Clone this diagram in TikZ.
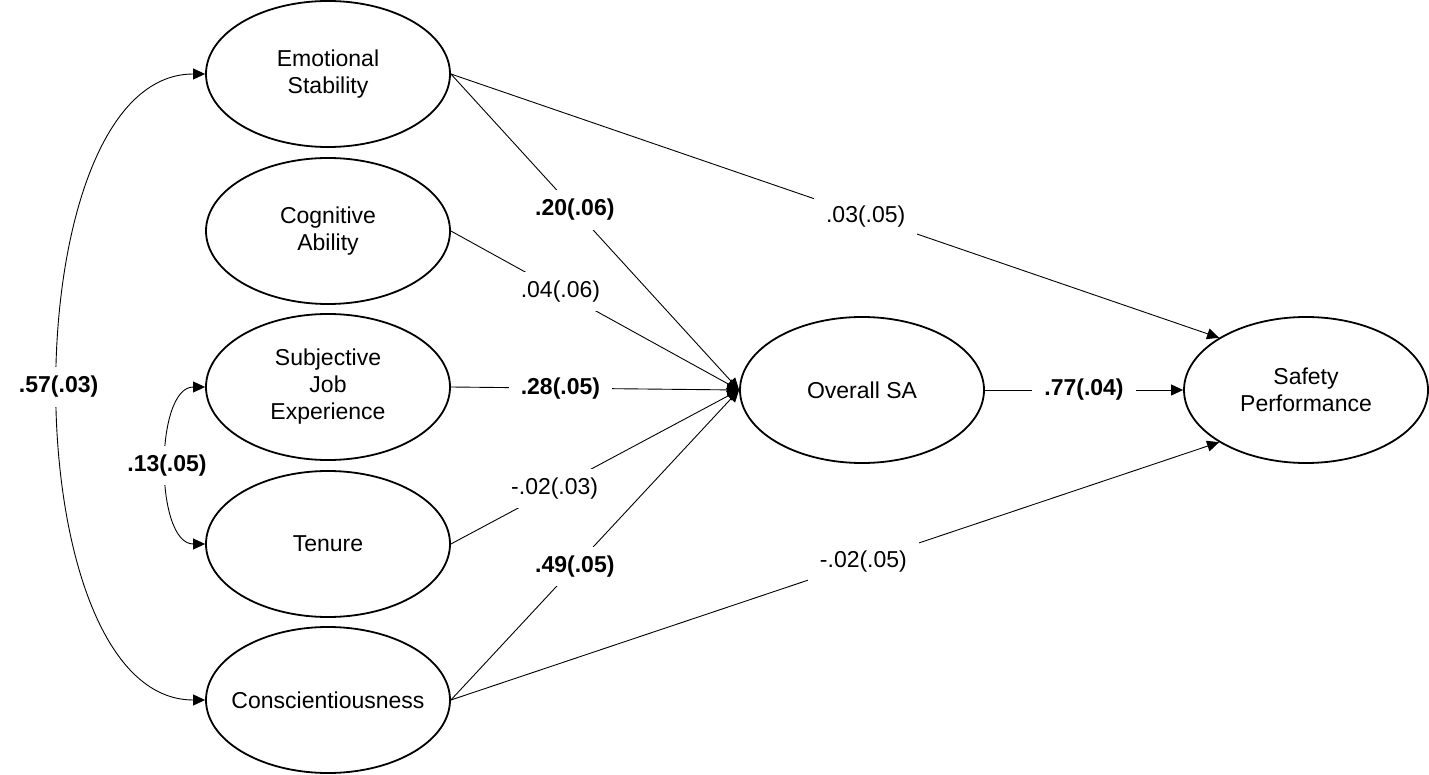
\documentclass[tikz,border=0pt]{standalone}
\usepackage{fontspec}
\setmainfont{Liberation Sans}
\usetikzlibrary{shapes.geometric,arrows.meta}
\begin{document}
\begin{tikzpicture}[x=1pt,y=-1pt,
  lat/.style={ellipse,draw,line width=1.8pt,minimum width=244pt,minimum height=146pt,inner sep=0pt,align=center,font=\fontsize{23}{27}\selectfont},
  conn/.style={line width=0.9pt,-{Triangle[length=12pt,width=11pt]}},
  dconn/.style={line width=0.9pt,{Triangle[length=12pt,width=11pt]}-{Triangle[length=12pt,width=11pt]}},
  lab/.style={fill=white,inner xsep=12pt,inner ysep=9pt,font=\fontsize{23}{27}\selectfont},
  blab/.style={lab,font=\fontsize{23}{27}\selectfont\bfseries}]
\useasboundingbox (0,0) rectangle (1429,775);
\node[lat] (ES) at (328,74) {Emotional\\Stability};
\node[lat] (CA) at (328,231) {Cognitive\\Ability};
\node[lat] (SJE) at (328,387) {Subjective\\Job\\Experience};
\node[lat] (T) at (328,544) {Tenure};
\node[lat] (C) at (328,700) {\makebox[0pt]{Conscientiousness}};
\node[lat] (OSA) at (862,390) {Overall SA};
\node[lat] (SP) at (1306,390) {Safety\\Performance};
% paths to Overall SA
\draw[conn] (ES.east) -- node[blab,pos=0.43] {.20(.06)} (OSA.west);
\draw[conn] (CA.east) -- node[lab,pos=0.38] {.04(.06)} (OSA.west);
\draw[conn] (SJE.east) -- node[blab,pos=0.38] {.28(.05)} (OSA.west);
\draw[conn] (T.east) -- node[lab,pos=0.36] {-.02(.03)} (OSA.west);
\draw[conn] (C.east) -- node[blab,pos=0.43] {.49(.05)} (OSA.west);
% paths to Safety Performance
\draw[conn] (ES.east) -- node[lab,pos=0.54] {.03(.05)} (SP.149);
\draw[conn] (C.east) -- node[lab,pos=0.537] {-.02(.05)} (SP.211);
\draw[conn] (OSA.east) -- node[blab,pos=0.5] {.77(.04)} (SP.west);
% covariances
\draw[dconn] (ES.west) to[out=180,in=180,looseness=0.80] node[blab,pos=0.5] {.57(.03)} (C.west);
\draw[dconn] (SJE.west) to[out=180,in=180,looseness=0.83] node[blab,pos=0.5] {.13(.05)} (T.west);
\end{tikzpicture}
\end{document}
